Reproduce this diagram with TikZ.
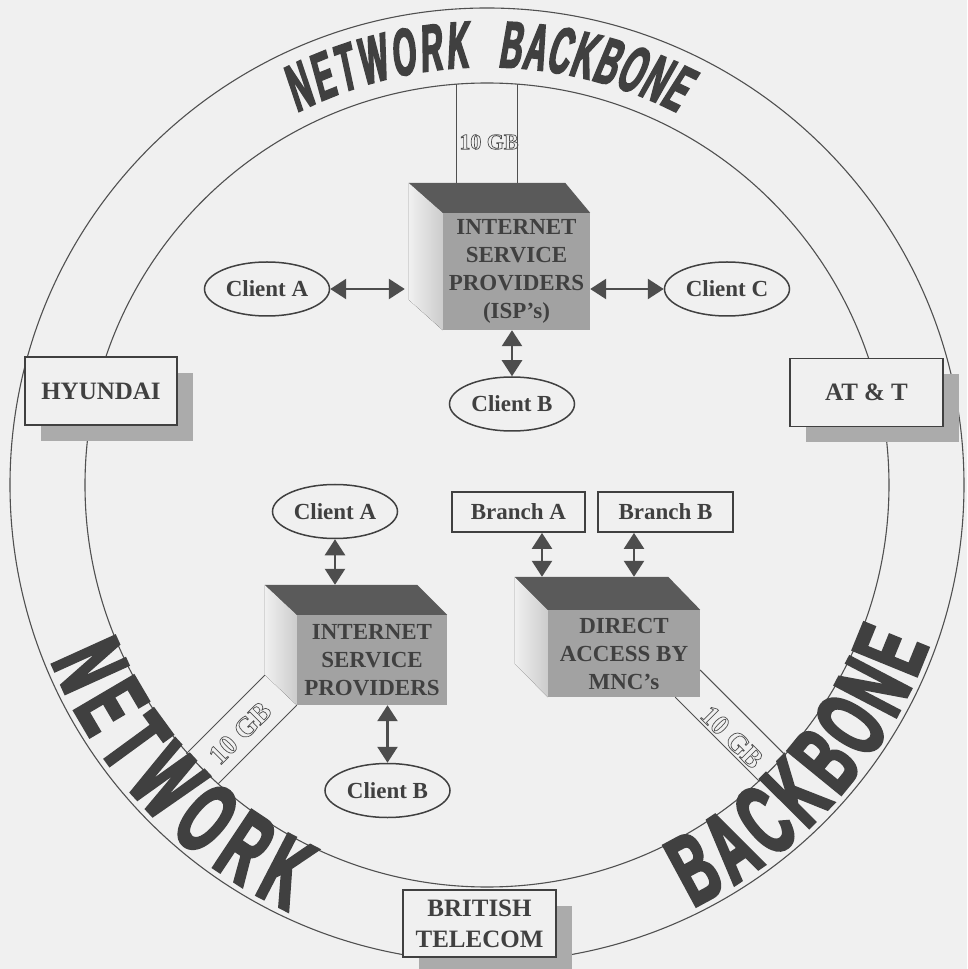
\documentclass[tikz,border=0pt]{standalone}
\usepackage{fontspec}
\setmainfont{Liberation Serif}
\newfontfamily\archfont[FakeStretch=0.46,FakeSlant=0.12,FakeBold=2.5]{Liberation Sans}
\newfontfamily\basefont[FakeStretch=0.54,FakeBold=3]{Liberation Sans}
\usetikzlibrary{shapes.geometric,arrows.meta,decorations.text,shadows,calc}

\definecolor{paper}{HTML}{F0F0F0}
\definecolor{inkgray}{HTML}{404040}
\definecolor{linegray}{HTML}{505050}
\definecolor{arrowgray}{HTML}{4D4D4D}
\definecolor{facegray}{HTML}{A2A2A2}
\definecolor{lidgray}{HTML}{5A5A5A}
\definecolor{shadowgray}{HTML}{ABABAB}

% stroked (hollow) letters
\newcommand{\hollow}[1]{\special{pdf:literal direct 1 Tr 0.7 w}#1\special{pdf:literal direct 0 Tr}}

\tikzset{
  ring/.style={draw=linegray, line width=1.1pt},
  link/.style={draw=linegray, line width=1pt},
  front/.style={fill=facegray, text=inkgray, font=\bfseries\fontsize{23}{28}\selectfont, align=center, inner sep=0pt},
  lid/.style={fill=lidgray},
  flank/.style={left color=paper, right color=gray!40},
  client/.style={ellipse, draw=inkgray, line width=1.5pt, fill=paper, text=inkgray,
    font=\bfseries\fontsize{23}{28}\selectfont, minimum width=125pt, minimum height=54pt, inner sep=0pt},
  branch/.style={draw=inkgray, line width=1.8pt, fill=paper, text=inkgray,
    font=\bfseries\fontsize{23}{28}\selectfont, minimum height=40pt, inner sep=0pt},
  carrier/.style={draw=inkgray, line width=1.2pt, fill=paper, text=inkgray, align=center,
    font=\bfseries\fontsize{25}{31}\selectfont, minimum width=153pt, minimum height=68pt, inner sep=0pt,
    drop shadow={shadow xshift=16pt, shadow yshift=-16pt, fill=shadowgray, opacity=1}},
  duplex/.style={{Triangle[width=20pt,length=16pt]}-{Triangle[width=20pt,length=16pt]}, draw=arrowgray, line width=2.5pt},
  gb/.style={text=linegray, font=\bfseries\fontsize{22}{22}\selectfont, inner sep=0pt},
}

\begin{document}
\begin{tikzpicture}[x=1pt,y=1pt]
\useasboundingbox (-487,-484) rectangle (480,485);
\fill[paper] (-487,-484) rectangle (480,485);
% backbone ring
\draw[ring] (0,0) circle[radius=477];
\draw[ring] (0,0) circle[radius=402];
% arched titles
\path[decorate,decoration={text along path,text align={fit to path},text color=inkgray,
  text={|\archfont\bfseries\fontsize{66}{66}\selectfont|NETWORK}}]
  (117:418) arc[start angle=117,end angle=92.5,radius=418];
\path[decorate,decoration={text along path,text align={fit to path},text color=inkgray,
  text={|\archfont\bfseries\fontsize{66}{66}\selectfont|BACKBONE}}]
  (88.5:418) arc[start angle=88.5,end angle=63,radius=418];
\path[decorate,decoration={text along path,text align={fit to path},text color=inkgray,
  text={|\basefont\bfseries\fontsize{100}{100}\selectfont|NETWORK}}]
  (202:470) arc[start angle=202,end angle=245,radius=470];
\path[decorate,decoration={text along path,text align={fit to path},text color=inkgray,
  text={|\basefont\bfseries\fontsize{100}{100}\selectfont|BACKBONE}}]
  (296:470) arc[start angle=296,end angle=340,radius=470];

% carriers on the ring
\node[carrier,minimum width=152pt] (hyundai) at (-386,94) {HYUNDAI};
\node[carrier] (att) at (379.5,92.5) {AT \& T};
\node[carrier,minimum height=67pt] (bt) at (-7.5,-438.5) {BRITISH\\TELECOM};

% upper ISP
\node[front,minimum width=147pt,minimum height=117pt] (isp) at (29.5,213.5) {INTERNET\\SERVICE\\PROVIDERS\\(ISP's)};
\fill[flank] (isp.north west) -- ++(-34,30) -- ++(0,-117) -- (isp.south west) -- cycle;
\fill[lid] (isp.north west) -- ++(-34,30) -- ([shift={(-25,30)}]isp.north east) -- (isp.north east) -- cycle;
\coordinate (isplid) at ([yshift=30pt]isp.north);
\draw[link] ([xshift=-59.5pt]isplid) -- ++(0,99);
\draw[link] ([xshift=0.5pt]isplid) -- ++(0,99);
\node[gb] (gbtop) at (2,343) {\hollow{10 GB}};
\node[client] (clienta) at (-220,196) {Client A};
\node[client] (clientc) at (240,196) {Client C};
\node[client] (clientb) at (25,81) {Client B};
\coordinate (ispedge) at ([xshift=-38pt]isp.west);
\draw[duplex] (clienta.east) -- (clienta.east -| ispedge);
\draw[duplex] (clientc.west) -- (clientc.west -| isp.east);
\draw[duplex] (clientb.north) -- (clientb.north |- isp.south);

% lower ISP
\node[front,minimum width=150pt,minimum height=90pt] (isp2) at (-115,-175) {INTERNET\\SERVICE\\PROVIDERS};
\fill[flank] (isp2.north west) -- ++(-32,30) -- ++(0,-90) -- (isp2.south west) -- cycle;
\fill[lid] (isp2.north west) -- ++(-32,30) -- ([shift={(-30,30)}]isp2.north east) -- (isp2.north east) -- cycle;
\coordinate (isp2lid) at ([yshift=30pt]isp2.north);
\node[client] (clienta2) at (-152,-26.5) {Client A};
\node[client] (clientb2) at (-99.5,-305.5) {Client B};
\draw[duplex] (clienta2.south) -- (clienta2.south |- isp2lid);
\draw[duplex] (clientb2.north) -- (clientb2.north |- isp2.south);
\draw[link] ([shift={(-32,30)}]isp2.south west) -- ++(225:111);
\draw[link] (isp2.south west) -- ++(225:111);
\node[gb,rotate=45,font=\bfseries\fontsize{28}{28}\selectfont] (gbleft) at (-247,-248) {\hollow{10 GB}};

% MNC direct access
\node[branch,minimum width=133pt] (brancha) at (31.5,-27) {Branch A};
\node[branch,minimum width=135pt] (branchb) at (178.5,-27) {Branch B};
\node[front,minimum width=152pt,minimum height=87pt] (mnc) at (137,-168.5) {DIRECT\\ACCESS BY\\MNC's};
\fill[flank] (mnc.north west) -- ++(-33,33) -- ++(0,-87) -- (mnc.south west) -- cycle;
\fill[lid] (mnc.north west) -- ++(-33,33) -- ([shift={(-32,33)}]mnc.north east) -- (mnc.north east) -- cycle;
\coordinate (mnclid) at ([yshift=33pt]mnc.north);
\draw[duplex] ([xshift=23.5pt]brancha.south) -- ([xshift=23.5pt]brancha.south |- mnclid);
\draw[duplex] ([xshift=-31.5pt]branchb.south) -- ([xshift=-31.5pt]branchb.south |- mnclid);
\draw[link] ([yshift=-16.5pt]mnc.east) -- ++(-45:120);
\draw[link] ([xshift=-25pt]mnc.south east) -- ++(-45:119);
\node[gb,rotate=-45,font=\bfseries\fontsize{28}{28}\selectfont] (gbright) at (245,-252) {\hollow{10 GB}};
\end{tikzpicture}
\end{document}
